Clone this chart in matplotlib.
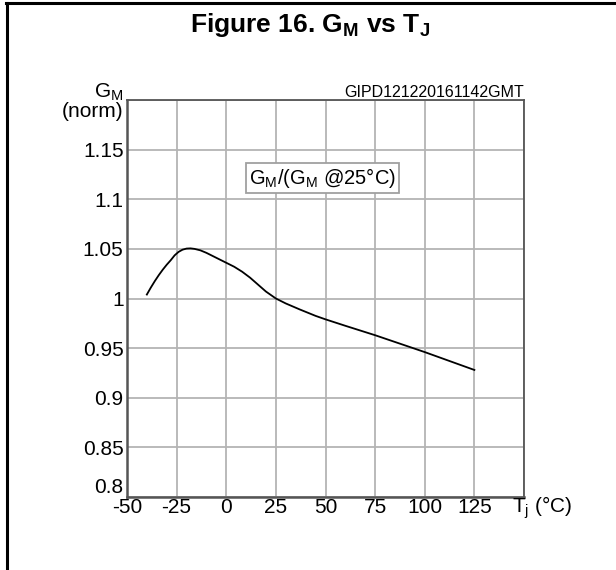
import numpy as np
import matplotlib
matplotlib.use('Agg')
import matplotlib.pyplot as plt
from matplotlib.lines import Line2D

plt.rcParams['font.family'] = ['Liberation Sans', 'DejaVu Sans']
plt.rcParams['mathtext.fontset'] = 'custom'
plt.rcParams['mathtext.rm'] = 'Liberation Sans'
plt.rcParams['mathtext.bf'] = 'Liberation Sans:bold'

# values
tj = [-40, -38, -36, -34, -32, -30, -28, -26, -24, -22, -20, -18, -16, -13, -10, -5, 0,
      4, 8, 12, 16, 20, 25, 30, 37, 45, 50, 60, 75, 100, 125]
gm = [1.004, 1.011, 1.0175, 1.0235, 1.029, 1.034, 1.0385, 1.0435, 1.047, 1.0492, 1.0503, 1.0505,
      1.0500, 1.0485, 1.046, 1.041, 1.036,
      1.032, 1.027, 1.021, 1.014, 1.007, 1.000, 0.995, 0.989, 0.9825, 0.979, 0.9725, 0.963, 0.946, 0.928]

x_ticks = [-50, -25, 0, 25, 50, 75, 100, 125, 150]
x_labels = ['-50', '-25', '0', '25', '50', '75', '100', '125', '']
y_ticks = [0.8, 0.85, 0.9, 0.95, 1.0, 1.05, 1.1, 1.15, 1.2]
y_labels = ['0.8', '0.85', '0.9', '0.95', '1', '1.05', '1.1', '1.15', '']

fig = plt.figure(figsize=(6.16, 5.70), dpi=100)
ax = fig.add_axes([127/616, 1-497/570, 397/616, 397/570])

ax.plot(tj, gm, color='black', lw=1.3)

ax.set_xlim(-50, 150)
ax.set_ylim(0.8, 1.2)
ax.set_xticks(x_ticks)
ax.set_xticklabels(x_labels)
ax.set_yticks(y_ticks)
ax.set_yticklabels(y_labels)
ax.tick_params(length=0, labelsize=15, colors='black')
ax.tick_params(axis='x', pad=1)
ax.tick_params(axis='y', pad=2.5)
# the bottom y label sits above the x axis line, clear of "-50"
ax.get_yticklabels()[0].set_va('bottom')
ax.grid(True, color='#b4b4b4', lw=1.3)
for s in ax.spines.values():
    s.set_color('#555555')
    s.set_linewidth(1.3)
ax.spines['left'].set_linewidth(1.8)
ax.spines['bottom'].set_linewidth(1.8)

ax.text(48.7, 1.1215, r'G$_\mathregular{M}$/(G$_\mathregular{M}$ @25°C)', fontsize=14.5,
        ha='center', va='center',
        bbox=dict(boxstyle='square,pad=0.15', facecolor='white', edgecolor='#a0a0a0', lw=1.3))

# axis captions
fig.text(123/616, 1-92/570, r'G$_\mathregular{M}$', fontsize=15, ha='right', va='center')
fig.text(123/616, 1-112/570, '(norm)', fontsize=15, ha='right', va='center')
fig.text(512/616, 1-508/570, r'T$_\mathregular{j}$ (°C)', fontsize=15, ha='left', va='center')
fig.text(524/616, 1-92/570, 'GIPD121220161142GMT', fontsize=11.5, ha='right', va='center')

fig.text(310/616, 1-25/570, r'Figure 16. G$_\mathbf{M}$ vs T$_\mathbf{J}$', fontsize=19,
         fontweight='bold', ha='center', va='center')

# frame of the figure block
fig.add_artist(Line2D([6/616, 1], [1-3/570, 1-3/570], color='black', lw=2.2, transform=fig.transFigure))
fig.add_artist(Line2D([7/616, 7/616], [0, 1-3/570], color='black', lw=2.2, transform=fig.transFigure))

fig.savefig('out.png', dpi=100)
